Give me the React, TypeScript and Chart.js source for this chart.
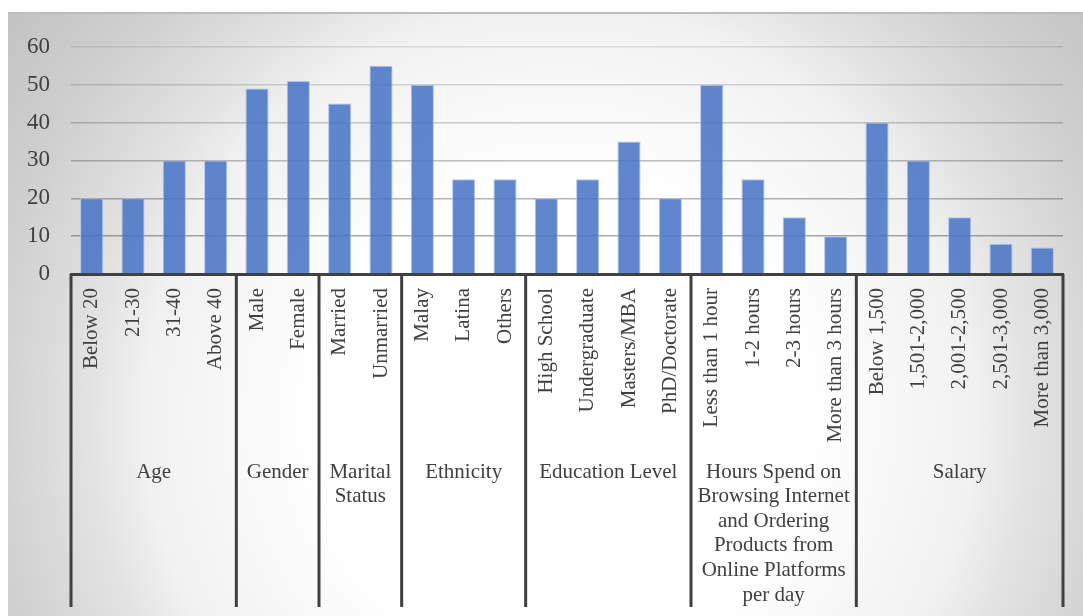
import React, { useEffect, useRef } from "react";
import { Chart, registerables } from "chart.js";

Chart.register(...registerables);

const categories = [
  "Below 20", "21-30", "31-40", "Above 40",
  "Male", "Female",
  "Married", "Unmarried",
  "Malay", "Latina", "Others",
  "High School", "Undergraduate", "Masters/MBA", "PhD/Doctorate",
  "Less than 1 hour", "1-2 hours", "2-3 hours", "More than 3 hours",
  "Below 1,500", "1,501-2,000", "2,001-2,500", "2,501-3,000", "More than 3,000",
];

const values = [
  20, 20, 30, 30,
  49, 51,
  45, 55,
  50, 25, 25,
  20, 25, 35, 20,
  50, 25, 15, 10,
  40, 30, 15, 8, 7,
];

const groupLabels = [
  ["Age"],
  ["Gender"],
  ["Marital", "Status"],
  ["Ethnicity"],
  ["Education Level"],
  ["Hours Spend on", "Browsing Internet", "and Ordering", "Products from", "Online Platforms", "per day"],
  ["Salary"],
];

const groupSizes = [4, 2, 2, 3, 4, 4, 5];

const yMin = 0;
const yMax = 60;
const yStep = 10;

const FONT = "'Liberation Serif', 'Times New Roman', serif";
const TEXT = "#404040";

const gridShade: Record<number, string> = {
  0: "rgba(0,0,0,0.35)",
  10: "rgba(0,0,0,0.33)",
  20: "rgba(0,0,0,0.29)",
  30: "rgba(0,0,0,0.25)",
  40: "rgba(0,0,0,0.2)",
  50: "rgba(0,0,0,0.15)",
  60: "rgba(0,0,0,0.1)",
};

const bgPlugin = {
  id: "bgGradient",
  beforeDraw(chart: any) {
    const { ctx, width, height } = chart;
    ctx.save();
    const cx = 552;
    const cy = 408;
    const g = ctx.createRadialGradient(cx, cy, 0, cx, cy, 690);
    g.addColorStop(0, "#ffffff");
    g.addColorStop(0.35, "#ffffff");
    g.addColorStop(0.6, "#f1f1f1");
    g.addColorStop(0.68, "#e3e3e3");
    g.addColorStop(0.83, "#d0d0d0");
    g.addColorStop(1, "#c2c2c2");
    ctx.fillStyle = g;
    ctx.fillRect(0, 0, width, height);
    ctx.fillStyle = "#bdbdbd";
    ctx.fillRect(0, 0, width, 2);
    ctx.restore();
  },
};

const groupPlugin = {
  id: "groupAxis",
  afterDraw(chart: any) {
    const { ctx, chartArea } = chart;
    const xs = chart.scales.x;
    const step = xs.getPixelForValue(1) - xs.getPixelForValue(0);
    const top = chartArea.bottom;
    const bottom = 595;
    ctx.save();
    ctx.strokeStyle = TEXT;
    ctx.lineWidth = 3;
    ctx.lineCap = "butt";
    let idx = 0;
    const bounds: number[] = [xs.getPixelForValue(0) - step / 2];
    groupSizes.forEach((n) => {
      idx += n;
      bounds.push(xs.getPixelForValue(idx - 1) + step / 2);
    });
    bounds.forEach((bx) => {
      ctx.beginPath();
      ctx.moveTo(bx, top);
      ctx.lineTo(bx, bottom);
      ctx.stroke();
    });
    ctx.fillStyle = TEXT;
    ctx.font = `21px ${FONT}`;
    ctx.textAlign = "center";
    ctx.textBaseline = "middle";
    groupLabels.forEach((lines, i) => {
      const mid = (bounds[i] + bounds[i + 1]) / 2;
      lines.forEach((line, j) => {
        ctx.fillText(line, mid, 460 + j * 24.6);
      });
    });
    ctx.restore();
  },
};

export default function App() {
  const ref = useRef<HTMLCanvasElement | null>(null);

  useEffect(() => {
    if (!ref.current) return;
    const chart = new Chart(ref.current, {
      type: "bar",
      data: {
        labels: categories,
        datasets: [
          {
            data: values,
            backgroundColor: "rgba(68,114,196,0.85)",
            borderColor: "rgba(170,192,232,0.9)",
            borderWidth: 1,
            categoryPercentage: 1,
            barPercentage: 0.56,
          },
        ],
      },
      options: {
        responsive: false,
        animation: false,
        layout: { padding: { top: 30, right: 20, left: 0, bottom: 0 } },
        plugins: {
          legend: { display: false },
          tooltip: { enabled: false },
        },
        scales: {
          x: {
            grid: { display: false, drawTicks: false },
            border: { display: true, color: TEXT, width: 3 },
            ticks: {
              autoSkip: false,
              minRotation: 90,
              maxRotation: 90,
              padding: 14,
              color: TEXT,
              font: { family: FONT, size: 21 },
            },
            afterFit(scale: any) {
              scale.height = 342;
            },
          },
          y: {
            min: yMin,
            max: yMax,
            grid: {
              drawTicks: false,
              color: (ctx: any) => gridShade[ctx.tick?.value] ?? "rgba(0,0,0,0.25)",
              lineWidth: 1.5,
            },
            border: { display: false },
            ticks: {
              stepSize: yStep,
              padding: 21,
              color: TEXT,
              font: { family: FONT, size: 23 },
            },
            afterFit(scale: any) {
              scale.width = 63;
            },
          },
        },
      },
      plugins: [bgPlugin, groupPlugin],
    });
    return () => chart.destroy();
  }, []);

  return (
    <div style={{ position: "absolute", left: 8, top: 12, width: 1075, height: 604 }}>
      <canvas ref={ref} width={1075} height={604} style={{ display: "block" }} />
    </div>
  );
}
